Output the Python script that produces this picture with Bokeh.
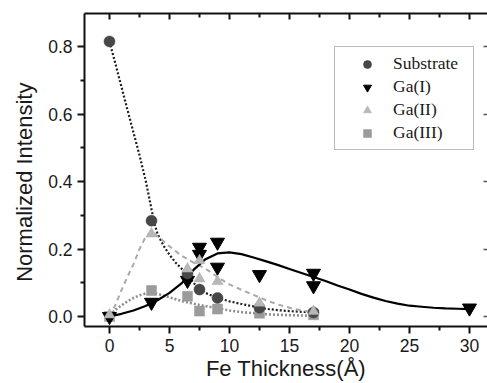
from bokeh.plotting import figure
from bokeh.models import (Range1d, LinearAxis, Legend, LegendItem,
                          FixedTicker, NumeralTickFormatter)
from bokeh.embed import file_html
from bokeh.resources import INLINE

# ---- data ----
substrate_x = [0, 3.5, 6.5, 7.5, 9, 12.5, 17]
substrate_y = [0.815, 0.284, 0.127, 0.080, 0.055, 0.026, 0.012]

ga1_x = [0, 3.5, 6.5, 7.5, 7.5, 9, 9, 12.5, 17, 17, 30]
ga1_y = [0.0, 0.042, 0.107, 0.205, 0.184, 0.220, 0.146, 0.124, 0.128, 0.091, 0.025]

ga2_x = [0, 3.5, 6.5, 7.5, 7.5, 9, 12.5, 17]
ga2_y = [0.005, 0.245, 0.141, 0.166, 0.112, 0.104, 0.040, 0.015]

ga3_x = [0, 3.5, 6.5, 7.5, 9, 12.5, 17]
ga3_y = [0.0, 0.077, 0.060, 0.016, 0.022, 0.010, 0.005]

sub_curve_x = [0, 0.5, 1, 1.5, 2, 2.5, 3, 3.25, 3.5, 3.75, 4, 4.5, 5, 5.5, 6, 6.5,
               7, 7.5, 8, 9, 10, 11, 12, 12.5, 13, 14, 15, 16, 17]
sub_curve_y = [0.815, 0.748, 0.680, 0.612, 0.545, 0.478, 0.405, 0.362, 0.318, 0.275,
               0.245, 0.210, 0.183, 0.160, 0.142, 0.125, 0.100, 0.080, 0.070, 0.055,
               0.045, 0.037, 0.030, 0.026, 0.023, 0.019, 0.016, 0.014, 0.012]

ga1_curve_x = [0, 1, 2, 3, 4, 5, 6, 7, 8, 9, 10, 11, 12, 13, 14, 15, 16, 17, 18, 19,
               20, 21, 22, 23, 24, 25, 26, 27, 28, 29, 30]
ga1_curve_y = [0.0, 0.008, 0.018, 0.031, 0.048, 0.070, 0.098, 0.138, 0.170, 0.187,
               0.190, 0.185, 0.175, 0.164, 0.153, 0.141, 0.129, 0.117, 0.105, 0.092,
               0.080, 0.067, 0.056, 0.046, 0.038, 0.032, 0.029, 0.026, 0.024, 0.023, 0.022]

ga2_curve_x = [0, 0.5, 1, 1.5, 2, 2.5, 3, 3.5, 4, 5, 6, 7, 8, 9, 10, 11, 12, 13, 14, 15, 16, 17]
ga2_curve_y = [0.0, 0.035, 0.078, 0.118, 0.155, 0.200, 0.235, 0.252, 0.238, 0.208, 0.180,
               0.160, 0.142, 0.117, 0.095, 0.079, 0.064, 0.049, 0.036, 0.026, 0.018, 0.012]

ga3_curve_x = [0, 0.5, 1, 1.5, 2, 2.5, 3, 3.5, 4, 5, 6, 7, 8, 9, 10, 11, 12, 13, 14, 15, 16, 17]
ga3_curve_y = [0.005, 0.020, 0.033, 0.045, 0.055, 0.063, 0.068, 0.070, 0.067, 0.057, 0.046,
               0.038, 0.031, 0.024, 0.018, 0.013, 0.010, 0.007, 0.005, 0.004, 0.003, 0.002]

x_ticks = [0, 5, 10, 15, 20, 25, 30]
x_minor = [2.5, 7.5, 12.5, 17.5, 22.5, 27.5]
y_ticks = [0.0, 0.2, 0.4, 0.6, 0.8]
y_minor = [0.1, 0.3, 0.5, 0.7]

series_labels = ["Substrate", "Ga(I)", "Ga(II)", "Ga(III)"]
x_label = "Fe Thickness(\u00c5)"
y_label = "Normalized Intensity" + "\u00a0" * 4

# ---- figure ----
p = figure(width=487, height=383, output_backend="svg", toolbar_location=None,
           x_range=Range1d(-2.083, 31.5), y_range=Range1d(-0.0296, 0.8978),
           min_border_left=84, min_border_right=0, min_border_top=13,
           min_border_bottom=57)
p.grid.visible = False
p.outline_line_color = None
p.background_fill_color = "white"
p.border_fill_color = "white"

TICK_FONT = "Liberation Sans"
TICK_SIZE = "17.5px"
TXT = "#1a1a1a"

xa = p.xaxis[0]
xa.ticker = FixedTicker(ticks=x_ticks, minor_ticks=x_minor)
ya = p.yaxis[0]
ya.ticker = FixedTicker(ticks=y_ticks, minor_ticks=y_minor)
ya.formatter = NumeralTickFormatter(format="0.0")
for ax in (xa, ya):
    ax.axis_line_width = 2
    ax.axis_line_color = "#111111"
    ax.major_tick_line_width = 2
    ax.minor_tick_line_width = 2
    ax.major_tick_line_color = "#111111"
    ax.minor_tick_line_color = "#111111"
    ax.major_tick_in = 0
    ax.minor_tick_in = 0
    ax.major_tick_out = 7
    ax.minor_tick_out = 4
    ax.major_label_text_font = TICK_FONT
    ax.major_label_text_font_size = TICK_SIZE
    ax.major_label_text_color = TXT
    ax.axis_label_text_font = "Liberation Sans"
    ax.axis_label_text_font_size = "22px"
    ax.axis_label_text_font_style = "normal"
    ax.axis_label_text_color = TXT
ya.major_label_standoff = 5
xa.major_label_standoff = 5
xa.axis_label = x_label
ya.axis_label = y_label
xa.axis_label_standoff = 1
ya.axis_label_standoff = 8

top = LinearAxis(ticker=FixedTicker(ticks=x_ticks, minor_ticks=x_minor))
top.axis_line_width = 2
top.axis_line_color = "#111111"
top.major_tick_in = 6
top.major_tick_out = 0
top.minor_tick_in = 4
top.minor_tick_out = 0
top.major_tick_line_width = 2
top.minor_tick_line_width = 2
top.major_tick_line_color = "#111111"
top.minor_tick_line_color = "#111111"
top.major_label_overrides = {t: "" for t in x_ticks}
top.major_label_text_font_size = "1px"
top.major_label_standoff = 0
p.add_layout(top, "above")

right = LinearAxis(ticker=FixedTicker(ticks=y_ticks, minor_ticks=[]))
right.axis_line_color = None
right.major_tick_in = 4
right.major_tick_out = 0
right.minor_tick_in = 0
right.minor_tick_out = 0
right.major_tick_line_width = 1.5
right.major_tick_line_color = "#555555"
right.major_label_overrides = {t: "" for t in y_ticks}
right.major_label_text_font_size = "1px"
right.major_label_standoff = 0
p.add_layout(right, "right")

# ---- curves ----
p.line(sub_curve_x, sub_curve_y, line_color="#1e1e1e", line_width=2.2, line_dash="2 2")
p.line(ga2_curve_x, ga2_curve_y, line_color="#aaaaaa", line_width=2.0, line_dash="5 4")
p.line(ga3_curve_x, ga3_curve_y, line_color="#8e8e8e", line_width=2.6, line_dash="2 2")
p.line(ga1_curve_x, ga1_curve_y, line_color="#000000", line_width=2.2)

# ---- markers ----
r_ga3 = p.scatter(ga3_x, ga3_y, marker="square", size=10, fill_color="#9b9b9b",
                  line_color="#9b9b9b", line_width=0.5)
r_ga1 = p.scatter(ga1_x, ga1_y, marker="inverted_triangle", size=14, fill_color="#000000",
                  line_color="#000000")
r_sub = p.scatter(substrate_x, substrate_y, marker="circle", size=11, fill_color="#474747",
                  line_color="#3a3a3a", line_width=0.5)
r_ga2 = p.scatter(ga2_x, ga2_y, marker="triangle", size=11, fill_color="#b8b8b8",
                  line_color="#aaaaaa", line_width=0.5)

legend = Legend(items=[LegendItem(label=series_labels[0], renderers=[r_sub]),
                       LegendItem(label=series_labels[1], renderers=[r_ga1]),
                       LegendItem(label=series_labels[2], renderers=[r_ga2]),
                       LegendItem(label=series_labels[3], renderers=[r_ga3])],
                location=(250, 176))
legend.label_text_font = "Liberation Serif"
legend.label_text_font_size = "17.5px"
legend.label_text_color = TXT
legend.glyph_width = 52
legend.glyph_height = 20
legend.label_height = 20
legend.label_standoff = 0
legend.label_width = 74
legend.spacing = 2
legend.padding = 6
legend.margin = 0
legend.border_line_color = "#777777"
legend.border_line_width = 1.5
legend.background_fill_color = "white"
legend.background_fill_alpha = 1.0
p.add_layout(legend)

open("out.html", "w").write(file_html(p, INLINE))
